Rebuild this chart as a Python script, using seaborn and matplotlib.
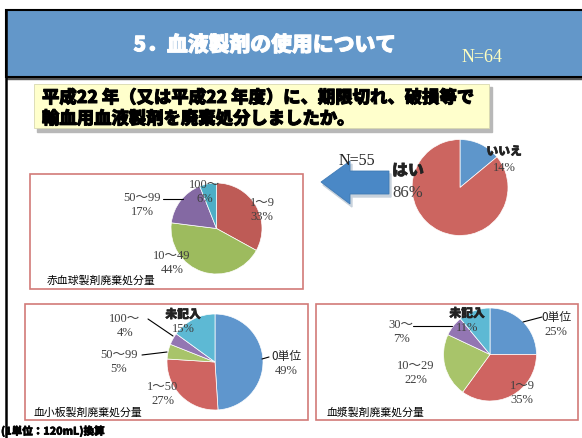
import matplotlib
matplotlib.use("Agg")
import matplotlib.pyplot as plt
import matplotlib.patheffects as pe
from matplotlib.patches import Rectangle, Polygon
import seaborn as sns

sns.set_theme(style="white")
plt.rcParams['font.family'] = ['Noto Sans CJK JP', 'DejaVu Sans']

W, H = 582, 439

# ---- data ----
main_labels = ['いいえ', 'はい']
main_values = [14, 86]

rbc_labels = ['1～9', '10～49', '50～99', '100～']
rbc_values = [33, 44, 17, 6]

plt_labels = ['0単位', '1～50', '50～99', '100～', '未記入']
plt_values = [49, 27, 5, 4, 15]

ffp_labels = ['0単位', '1～9', '10～29', '30～', '未記入']
ffp_values = [25, 35, 22, 7, 11]

main_colors = sns.color_palette(['#5E96CB', '#CC6560'])
rbc_colors = sns.color_palette(['#BE5B56', '#9DBB5E', '#8469A3', '#4DAEC6'])
five_colors = sns.color_palette(['#5F96CD', '#CF6461', '#A8C46A', '#9376B3', '#5DB9D4'])

SERIF = ['Liberation Serif', 'Noto Sans CJK JP']
GREY = '#404040'


def thick(color, w=0.7):
    return [pe.withStroke(linewidth=w, foreground=color)]


fig = plt.figure(figsize=(W / 100, H / 100), dpi=100)
fig.patch.set_facecolor('white')
bg = fig.add_axes([0, 0, 1, 1])
bg.set_xlim(0, W)
bg.set_ylim(H, 0)
bg.axis('off')

# slide frame + title bar
bg.add_patch(Rectangle((7, 77), W, 3, color='#555555', zorder=1))
bg.add_patch(Rectangle((6, 11), W, 67, facecolor='#6397C9', edgecolor='black', lw=1.5, zorder=2))
bg.plot([6, 6], [11, H], color='black', lw=1.8, zorder=3)
bg.text(265, 46, '5．血液製剤の使用について', color='white', fontsize=15,
        fontweight='heavy', ha='center', va='center', zorder=4, path_effects=thick('white'))
bg.text(482, 57, 'N=64', color='#FFFFC0', fontsize=13, family=SERIF,
        ha='center', va='center', zorder=4)

# question box
bg.add_patch(Rectangle((37, 88), 455, 45, color='#B8B8B8', zorder=1))
bg.add_patch(Rectangle((34, 85), 455, 44, facecolor='#FFFFCC', edgecolor='#D8D8B0', lw=0.6, zorder=2))
bg.text(42, 99, '平成22 年（又は平成22 年度）に、期限切れ、破損等で', fontsize=12.5,
        fontweight='heavy', ha='left', va='center', color='black', zorder=3,
        path_effects=thick('black'))
bg.text(42, 120, '輸血用血液製剤を廃棄処分しましたか。', fontsize=12.5,
        fontweight='heavy', ha='left', va='center', color='black', zorder=3,
        path_effects=thick('black'))

# arrow
arrow_pts = [(321, 183), (350, 162), (350, 172), (389, 172), (389, 195), (350, 195), (350, 205)]
bg.add_patch(Polygon([(x + 2, y + 3) for x, y in arrow_pts], color='#C8D2DC', zorder=1))
bg.add_patch(Polygon(arrow_pts, facecolor='#4A88C6', edgecolor='#3F7AB5', lw=0.6, zorder=2))

# chart boxes
for x0, y0, w, h in [(30, 175, 273, 115), (25, 305, 283, 116), (316, 305, 262, 116)]:
    bg.add_patch(Rectangle((x0, y0), w, h, facecolor='white', edgecolor='#D27A78', lw=1.2, zorder=1))


def pie_at(cx, cy, r, values, colors):
    ax = fig.add_axes([(cx - r) / W, 1 - (cy + r) / H, 2 * r / W, 2 * r / H])
    ax.pie(values, colors=colors, startangle=90, counterclock=False, radius=1,
           wedgeprops=dict(edgecolor='white', linewidth=0.5))
    ax.set_xlim(-1, 1)
    ax.set_ylim(-1, 1)
    ax.axis('off')
    return ax


pie_at(460, 188.5, 48, main_values, main_colors)
pie_at(216.5, 229.5, 45.5, rbc_values, rbc_colors)
pie_at(215, 363, 48, plt_values, five_colors)
pie_at(490, 355.5, 46.5, ffp_values, five_colors)

# overlay for all text so it sits above the pies
top = fig.add_axes([0, 0, 1, 1])
top.set_xlim(0, W)
top.set_ylim(H, 0)
top.axis('off')

top.text(357, 161, 'N=55', fontsize=11.5, family=SERIF, ha='center', va='center', color='#222222')
top.text(47, 281, '赤血球製剤廃棄処分量', fontsize=7.8, ha='left', va='center', color='black')
top.text(34, 413, '血小板製剤廃棄処分量', fontsize=7.8, ha='left', va='center', color='black')
top.text(327, 413, '血漿製剤廃棄処分量', fontsize=7.8, ha='left', va='center', color='black')
top.text(1, 432, '(1単位：120mL)換算', fontsize=7.6, fontweight='heavy', ha='left',
         va='center', color='black', path_effects=thick('black', 0.4))


def label(x, y, name, value, kind='serif', size=8.5, gap=14):
    if kind == 'bold':
        top.text(x, y, name, fontsize=size, fontweight='heavy', ha='center', va='center',
                 color='#222222', path_effects=thick('#222222', 0.4))
    elif kind == 'gothic':
        top.text(x, y, name, fontsize=size, ha='center', va='center', color='#222222')
    else:
        top.text(x, y, name, fontsize=size + 0.5, family=SERIF, ha='center', va='center', color=GREY)
    top.text(x, y + gap, f'{value}%', fontsize=size + 0.5, family=SERIF, ha='center',
             va='center', color=GREY)


def kind_of(name):
    if name == '未記入':
        return 'bold'
    if name == '0単位':
        return 'gothic'
    return 'serif'


# main pie labels
label(504, 152, main_labels[0], main_values[0], kind='bold', size=8.5, gap=16)
label(408, 172, main_labels[1], main_values[1], kind='bold', size=11.5, gap=21)

# red cell pie labels
rbc_pos = [(262, 203), (172, 256), (142, 198), (205, 185)]
for (x, y), n, v in zip(rbc_pos, rbc_labels, rbc_values):
    label(x, y, n, v)
top.plot([163, 183], [200, 200], color='black', lw=0.8)

# platelet pie labels
plt_pos = [(286, 357), (163, 387), (119, 355), (125, 319), (183, 315)]
for (x, y), n, v in zip(plt_pos, plt_labels, plt_values):
    label(x, y, n, v, kind=kind_of(n))
top.plot([148, 173], [320, 337], color='black', lw=0.8)
top.plot([142, 167], [356, 353], color='black', lw=0.8)
top.plot([262, 269], [360, 358], color='black', lw=0.8)

# plasma pie labels
ffp_pos = [(556, 318), (522, 386), (416, 366), (401, 325), (467, 314)]
for (x, y), n, v in zip(ffp_pos, ffp_labels, ffp_values):
    label(x, y, n, v, kind=kind_of(n))
top.plot([413, 452], [327, 327], color='black', lw=0.8)
top.plot([523, 542], [323, 318], color='black', lw=0.8)

fig.savefig('out.png', dpi=100)
